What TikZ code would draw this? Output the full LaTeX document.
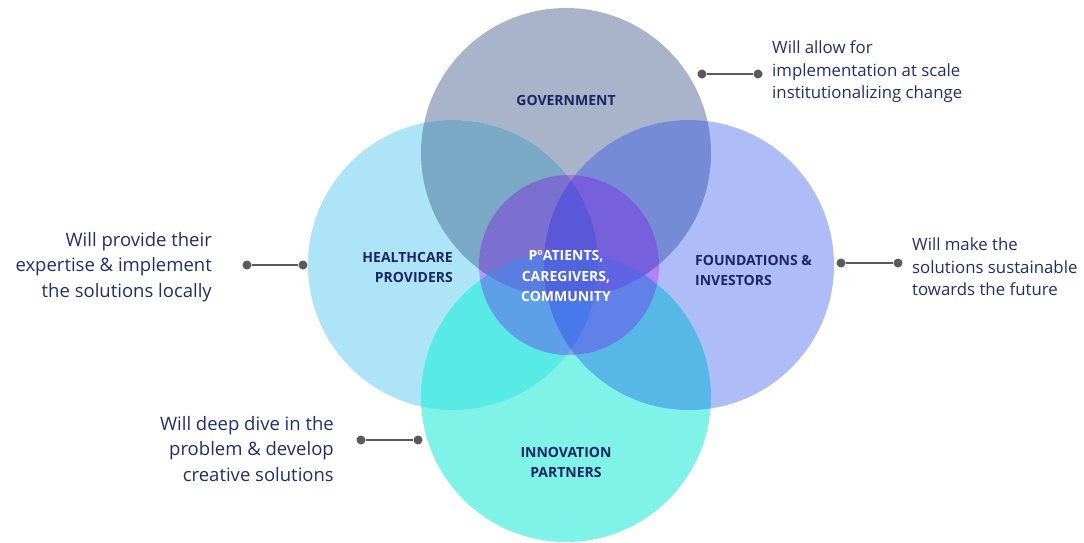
\documentclass[tikz,border=0pt]{standalone}
\usepackage{fontspec}
\setmainfont{Open Sans}
\begin{document}
% region colours (outside the core circle)
\definecolor{bgG}{RGB}{169,180,202}
\definecolor{bgH}{RGB}{173,228,247}
\definecolor{bgF}{RGB}{174,189,248}
\definecolor{bgI}{RGB}{127,243,232}
\definecolor{bgGH}{RGB}{122,169,198}
\definecolor{bgGF}{RGB}{117,139,214}
\definecolor{bgGI}{RGB}{100,160,215}
\definecolor{bgHF}{RGB}{120,160,240}
\definecolor{bgHI}{RGB}{88,235,229}
\definecolor{bgFI}{RGB}{87,184,232}
\definecolor{bgGHF}{RGB}{90,130,216}
\definecolor{bgGHI}{RGB}{90,160,220}
\definecolor{bgGFI}{RGB}{95,140,225}
\definecolor{bgHFI}{RGB}{72,176,234}
\definecolor{bgGHFI}{RGB}{75,140,225}
% region colours inside the core circle
\definecolor{ctG}{RGB}{172,122,207}
\definecolor{ctH}{RGB}{176,155,250}
\definecolor{ctF}{RGB}{177,128,250}
\definecolor{ctI}{RGB}{130,165,236}
\definecolor{ctGH}{RGB}{123,112,207}
\definecolor{ctGF}{RGB}{118,96,220}
\definecolor{ctGI}{RGB}{80,100,222}
\definecolor{ctHF}{RGB}{88,88,220}
\definecolor{ctHI}{RGB}{94,160,232}
\definecolor{ctFI}{RGB}{96,128,234}
\definecolor{ctGHF}{RGB}{90,88,216}
\definecolor{ctGHI}{RGB}{90,125,225}
\definecolor{ctGFI}{RGB}{96,100,228}
\definecolor{ctHFI}{RGB}{72,120,234}
\definecolor{ctGHFI}{RGB}{80,100,224}
\definecolor{navy}{RGB}{33,46,108}
\definecolor{labelnavy}{RGB}{27,38,98}
\definecolor{connector}{RGB}{90,90,90}
\newcommand{\bigR}{145pt}
\newcommand{\pfill}[2]{\fill[#1] (#2) circle[radius=\bigR];}
\newcommand{\pclip}[1]{\clip (#1) circle[radius=\bigR];}
% paints every overlap region of the four circles, smallest overlaps first
\newcommand{\vennlayers}[1]{%
  \pfill{#1G}{G}\pfill{#1H}{H}\pfill{#1F}{F}\pfill{#1I}{I}%
  \begin{scope}\pclip{G}\pfill{#1GH}{H}\pfill{#1GF}{F}\pfill{#1GI}{I}\end{scope}%
  \begin{scope}\pclip{H}\pfill{#1HF}{F}\pfill{#1HI}{I}\end{scope}%
  \begin{scope}\pclip{F}\pfill{#1FI}{I}\end{scope}%
  \begin{scope}\pclip{G}\pclip{H}\pfill{#1GHF}{F}\pfill{#1GHI}{I}\end{scope}%
  \begin{scope}\pclip{G}\pclip{F}\pfill{#1GFI}{I}\end{scope}%
  \begin{scope}\pclip{H}\pclip{F}\pfill{#1HFI}{I}\end{scope}%
  \begin{scope}\pclip{G}\pclip{H}\pclip{F}\pfill{#1GHFI}{I}\end{scope}%
}
\begin{tikzpicture}[x=1pt,y=-1pt,
  label/.style={font=\fontsize{14}{20}\selectfont\bfseries, text=labelnavy, inner sep=0pt},
  corelabel/.style={font=\fontsize{14}{20.5}\selectfont\bfseries, text=white, inner sep=0pt, align=center},
  notesmall/.style={font=\fontsize{16.8}{22.5}\selectfont, text=navy, inner sep=0pt},
  notelarge/.style={font=\fontsize{18.5}{25.5}\selectfont, text=navy, inner sep=0pt},
  dot/.style={circle, fill=connector, minimum size=9pt, inner sep=0pt},
  conn/.style={draw=connector, line width=2pt}]
\useasboundingbox (0,0) rectangle (1084,542);
\coordinate (G) at (566,153);
\coordinate (H) at (453,265);
\coordinate (F) at (689,265);
\coordinate (I) at (566,397);
\coordinate (C) at (569,265);

\vennlayers{bg}
\begin{scope}
  \clip (C) circle[radius=90pt];
  \vennlayers{ct}
\end{scope}

% circle labels
\node[label] (gov) at (566,100) {GOVERNMENT};
\node[label, align=right, anchor=east] (hcp) at (453,267) {HEALTHCARE\\PROVIDERS};
\node[label, align=left, anchor=west] (fin) at (695,270) {FOUNDATIONS \&\\INVESTORS};
\node[label, align=center] (inn) at (566,462) {INNOVATION\\PARTNERS};
\node[corelabel] (core) at (566,276) {PºATIENTS,\\CAREGIVERS,\\COMMUNITY};

% notes and their connectors
\node[notesmall, align=left, anchor=west] (ngov) at (772,72) {Will allow for\\implementation at scale\\institutionalizing change};
\node[dot] (g1) at (702,74) {};
\node[dot] (g2) at (758,74) {};
\draw[conn] (g1) -- (g2);

\node[notelarge, align=right, anchor=east] (nhcp) at (212,267) {Will provide their\\expertise \& implement\\the solutions locally};
\node[dot] (h1) at (247,265) {};
\node[dot] (h2) at (303,265) {};
\draw[conn] (h1) -- (h2);

\node[notesmall, align=left, anchor=west] (nfin) at (912,267) {Will make the\\solutions sustainable\\towards the future};
\node[dot] (f1) at (841,263) {};
\node[dot] (f2) at (898,263) {};
\draw[conn] (f1) -- (f2);

\node[notelarge, align=right, anchor=east] (ninn) at (334,449) {Will deep dive in the\\problem \& develop\\creative solutions};
\node[dot] (i1) at (361,440) {};
\node[dot] (i2) at (418,440) {};
\draw[conn] (i1) -- (i2);
\end{tikzpicture}
\end{document}
